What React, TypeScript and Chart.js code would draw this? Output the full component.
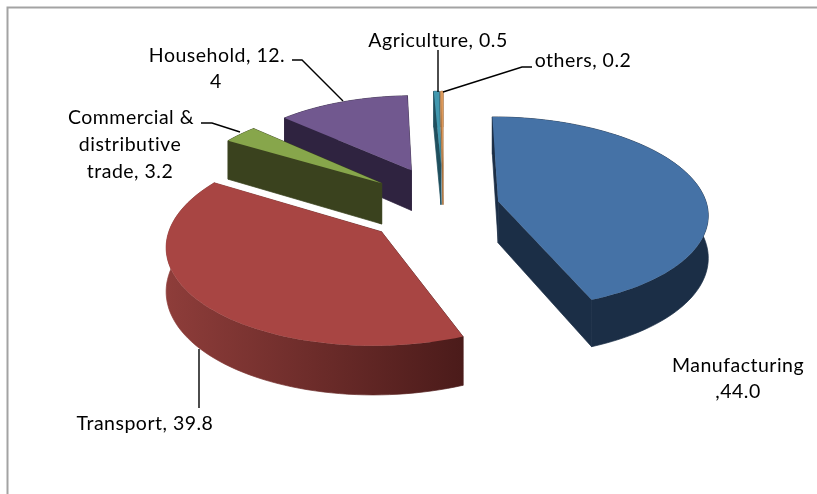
import React, { useEffect, useRef } from "react";
import { Chart, registerables } from "chart.js";

Chart.register(...registerables);

const categories = ["Manufacturing", "Transport", "Commercial & distributive trade", "Household", "Agriculture", "others"];
const shares = [44.0, 39.8, 3.2, 12.4, 0.5, 0.2];
const shareTexts = ["44.0", "39.8", "3.2", "12.4", "0.5", "0.2"];

const topColors = ["#4572a6", "#a84543", "#87a64b", "#71588f", "#4198af", "#dd9a5c"];
const sideNearColors = ["#1b2e46", "#8e3d3a", "#3a421e", "#2f2340", "#1f4f5e", "#a8703c"];
const sideFarColors = ["#1b2e46", "#4b1b1a", "#3a421e", "#2f2340", "#1f4f5e", "#a8703c"];
const explode = [56, 75, 85, 90, 95, 95];
const paintOrder = [5, 4, 3, 2, 0, 1];

// Per-slice corrections for the camera: rim size and screen shift
const rimScale = [1, 0.99, 0.96, 0.95, 0.95, 0.95];
const shiftX = [0, -3, 4, 4, 0, 0];
const shiftY = [0, 3, 0, 0, 0, 0];

// Tilted-plane camera used for the 3D pie
const PIE_RADIUS = 209;
const TILT = 0.457;
const PERSPECTIVE = 0.12;
const DEPTH = 42;

// Label lines: text, centre x, baseline y
const labelLines: [string, number, number][] = [
  [`${categories[0]}`, 738, 372],
  [`,${shareTexts[0]}`, 738, 398],
  [`Transport, ${shareTexts[1]}`, 145, 430],
  ["Commercial &", 131, 124],
  ["distributive", 130, 151],
  [`trade, ${shareTexts[2]}`, 130, 178],
  ["Household, 12.", 217, 62],
  ["4", 216, 88],
  [`${categories[4]}, ${shareTexts[4]}`, 438, 47],
  [`${categories[5]}, ${shareTexts[5]}`, 583, 67],
];

const leaders: [number, number][][] = [
  [[199, 349], [199, 408]],
  [[201, 123], [212, 123], [240, 132]],
  [[292, 60], [302, 60], [343, 101]],
  [[438, 50], [438, 92]],
  [[532, 67], [522, 67], [443, 92]],
];

const pie3d = {
  id: "pie3d",
  beforeDraw(chart: any) {
    const { ctx } = chart;
    ctx.save();
    ctx.strokeStyle = "#a3a3a3";
    ctx.lineWidth = 2;
    ctx.beginPath();
    ctx.moveTo(7.5, 494);
    ctx.lineTo(7.5, 7.5);
    ctx.lineTo(817, 7.5);
    ctx.stroke();
    ctx.restore();
  },
  beforeDatasetDraw(chart: any) {
    const { ctx } = chart;
    const arcs = chart.getDatasetMeta(0).data;
    const project = (cx: number, cy: number, u: number, v: number, z: number): [number, number] => {
      const s = 1 / (1 - (PERSPECTIVE * v) / PIE_RADIUS);
      return [cx + u * s, cy + v * TILT * s + z * s];
    };
    const poly = (pts: [number, number][]) => {
      ctx.beginPath();
      pts.forEach((p, i) => (i ? ctx.lineTo(p[0], p[1]) : ctx.moveTo(p[0], p[1])));
      ctx.closePath();
    };

    for (const idx of paintOrder) {
      const arc = arcs[idx];
      const cx = arc.x + shiftX[idx];
      const cy = arc.y + shiftY[idx];
      const a0 = arc.startAngle + Math.PI / 2;
      const a1 = arc.endAngle + Math.PI / 2;
      const mid = (a0 + a1) / 2;
      const e = arc.options.offset;
      const r = PIE_RADIUS * rimScale[idx];
      const ox = e * Math.sin(mid);
      const oy = -e * Math.cos(mid);
      const steps = Math.max(2, Math.ceil((a1 - a0) / (Math.PI / 90)));
      const rim: [number, number][] = [];
      for (let i = 0; i <= steps; i++) {
        const a = a0 + ((a1 - a0) * i) / steps;
        rim.push([ox + r * Math.sin(a), oy - r * Math.cos(a)]);
      }
      const top = rim.map(([u, v]) => project(cx, cy, u, v, 0));
      const bottom = rim.map(([u, v]) => project(cx, cy, u, v, DEPTH));
      const apexTop = project(cx, cy, ox, oy, 0);
      const apexBottom = project(cx, cy, ox, oy, DEPTH);

      const xs = top.map((p) => p[0]);
      const grad = ctx.createLinearGradient(Math.min(...xs, apexTop[0]), 0, Math.max(...xs, apexTop[0]), 0);
      grad.addColorStop(0, sideNearColors[idx]);
      grad.addColorStop(1, sideFarColors[idx]);
      ctx.fillStyle = grad;
      ctx.strokeStyle = grad;
      ctx.lineWidth = 0.7;

      // Cut faces first, then the outer wall; a hairline stroke closes the joins
      poly([apexTop, top[0], bottom[0], apexBottom]);
      ctx.fill();
      ctx.stroke();
      poly([apexTop, top[steps], bottom[steps], apexBottom]);
      ctx.fill();
      ctx.stroke();
      poly([...top, ...bottom.slice().reverse()]);
      ctx.fill();
      ctx.stroke();

      poly([apexTop, ...top]);
      ctx.fillStyle = topColors[idx];
      ctx.fill();
    }
    return false;
  },
  afterDatasetsDraw(chart: any) {
    const { ctx } = chart;
    ctx.save();
    ctx.strokeStyle = "#000";
    ctx.lineWidth = 1.4;
    for (const line of leaders) {
      ctx.beginPath();
      line.forEach((p, i) => (i ? ctx.lineTo(p[0], p[1]) : ctx.moveTo(p[0], p[1])));
      ctx.stroke();
    }
    ctx.fillStyle = "#000";
    ctx.font = "19.5px Lato";
    ctx.letterSpacing = "0.5px";
    ctx.textAlign = "center";
    ctx.textBaseline = "alphabetic";
    for (const [text, x, y] of labelLines) ctx.fillText(text, x, y);
    ctx.restore();
  },
};

export default function App() {
  const ref = useRef<HTMLCanvasElement>(null);
  useEffect(() => {
    const chart = new Chart(ref.current!, {
      type: "pie",
      data: {
        labels: categories,
        datasets: [{ data: shares, backgroundColor: topColors, offset: explode, borderWidth: 0 }],
      },
      options: {
        animation: false,
        responsive: false,
        layout: { padding: { left: 70, bottom: 82 } },
        plugins: { legend: { display: false }, tooltip: { enabled: false } },
      },
      plugins: [pie3d],
    } as any);
    return () => chart.destroy();
  }, []);
  return (
    <canvas
      ref={ref}
      width={817}
      height={494}
      style={{ position: "absolute", left: 0, top: 0, display: "block", background: "#fff" }}
    />
  );
}
